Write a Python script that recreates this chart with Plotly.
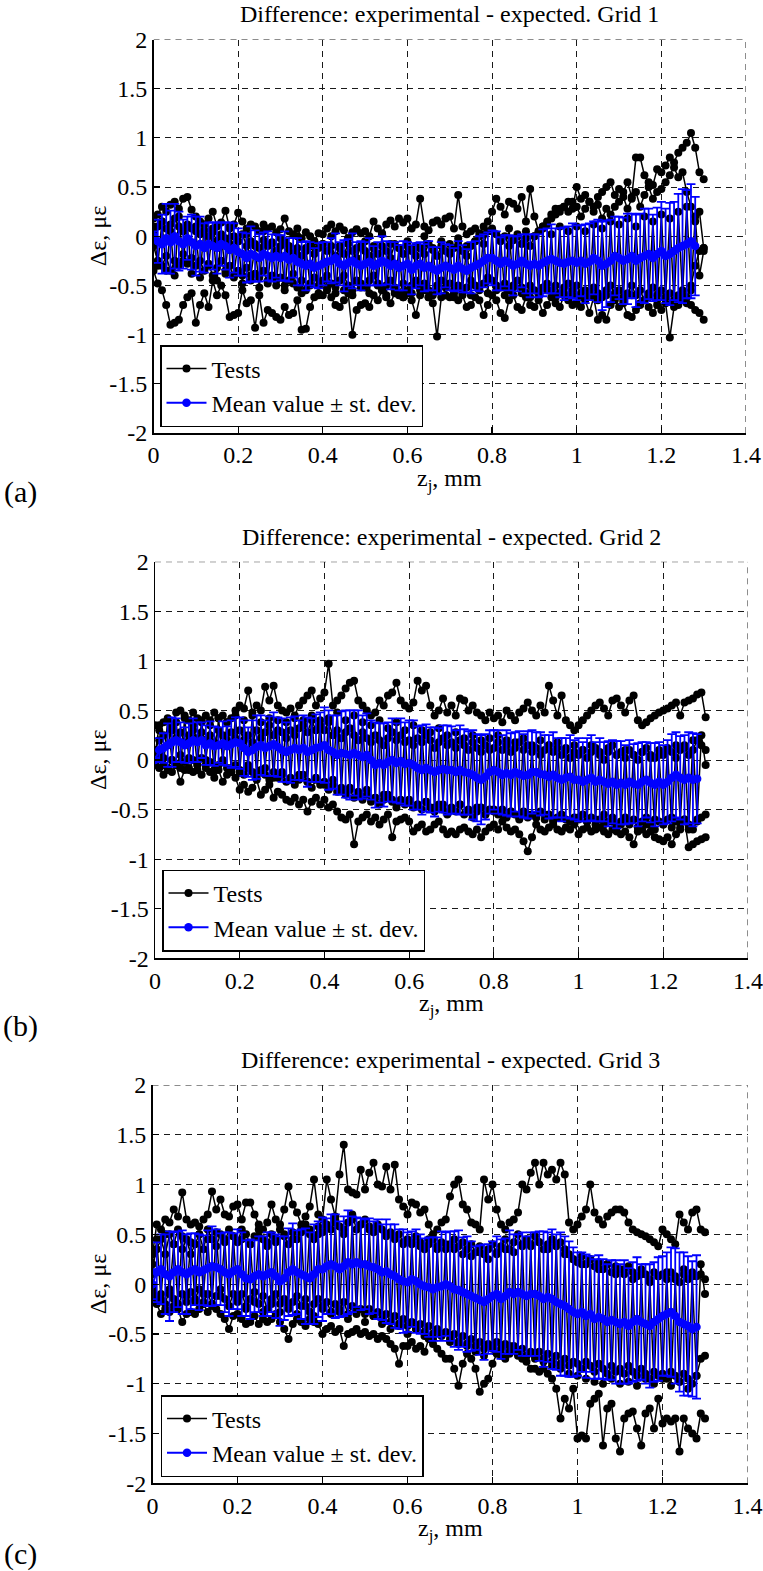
import plotly.graph_objects as go

# ---------------- DATA ----------------
# z_j positions (mm) of the test points and of the mean curve
z_tests = [round(0.01 * i, 2) for i in range(131)]
z_mean = [round(0.01 * i, 2) for i in range(129)]

x_tick_vals = [0, 0.2, 0.4, 0.6, 0.8, 1.0, 1.2, 1.4]
x_tick_text = ["0", "0.2", "0.4", "0.6", "0.8", "1", "1.2", "1.4"]
y_tick_vals = [-2, -1.5, -1, -0.5, 0, 0.5, 1, 1.5, 2]
y_tick_text = ["-2", "-1.5", "-1", "-0.5", "0", "0.5", "1", "1.5", "2"]

titles = ["Difference: experimental - expected. Grid 1",
          "Difference: experimental - expected. Grid 2",
          "Difference: experimental - expected. Grid 3"]
panel_letters = ["(a)", "(b)", "(c)"]

# ---- Grid 1 ----
g1_test1 = [0.18, 0.22, 0.30, 0.25, 0.32, 0.35, 0.28, 0.38, 0.40, 0.27,
            0.20, 0.15, 0.12, 0.18, 0.25, 0.10, 0.14, 0.26, 0.08, 0.12,
            0.24, 0.15, 0.08, 0.12, 0.10, 0.05, 0.12, 0.08, 0.10, 0.04,
            0.07, 0.18, 0.05, 0.02, 0.08, -0.02, 0.04, 0.00, -0.05, 0.03,
            0.02, 0.08, 0.12, 0.05, 0.10, 0.06, -0.02, 0.04, 0.07, 0.03,
            0.05, 0.00, 0.15, 0.08, 0.03, 0.12, 0.16, 0.10, 0.18, 0.14,
            0.18, 0.08, 0.12, 0.38, 0.10, 0.06, 0.14, 0.16, 0.12, 0.18,
            0.20, 0.08, 0.42, 0.10, 0.02, 0.05, 0.08, 0.03, 0.10, 0.15,
            0.25, 0.38, 0.30, 0.22, 0.35, 0.33, 0.28, 0.40, 0.15, 0.48,
            0.20, 0.05, 0.10, 0.15, 0.22, 0.28, 0.25, 0.30, 0.35, 0.28,
            0.50, 0.38, 0.42, 0.35, 0.30, 0.40, 0.45, 0.50, 0.55, 0.42,
            0.48, 0.45, 0.55, 0.40, 0.80, 0.80, 0.62, 0.55, 0.52, 0.68,
            0.65, 0.72, 0.80, 0.75, 0.85, 0.90, 0.95, 1.05, 0.90, 0.65, 0.58]
g1_test2 = [0.05, 0.10, 0.15, 0.08, 0.12, 0.18, 0.10, 0.05, 0.12, 0.08,
            0.10, 0.02, 0.06, 0.00, 0.04, -0.05, 0.02, -0.02, -0.08, 0.00,
            -0.05, 0.02, -0.10, -0.05, -0.08, -0.12, -0.04, -0.10, -0.06, -0.15,
            -0.10, -0.05, -0.14, -0.18, -0.12, -0.20, -0.15, -0.10, -0.18, -0.12,
            -0.08, -0.15, -0.10, -0.20, -0.12, -0.18, -0.08, -0.15, -0.22, -0.10,
            -0.15, -0.20, -0.12, -0.18, -0.10, -0.15, -0.22, -0.08, -0.12, -0.18,
            -0.10, -0.15, -0.20, -0.12, -0.18, -0.08, -0.14, -0.20, -0.10, -0.15,
            -0.18, -0.12, -0.08, -0.15, -0.20, -0.10, -0.05, 0.00, -0.08, 0.05,
            0.08, 0.02, -0.05, 0.00, -0.10, -0.04, 0.02, -0.08, -0.02, -0.10,
            0.00, 0.05, 0.10, 0.12, 0.18, 0.22, 0.28, 0.30, 0.25, 0.35,
            0.30, 0.20, 0.28, 0.35, 0.25, 0.32, 0.18, 0.28, 0.22, 0.30,
            0.35, 0.40, 0.28, 0.38, 0.45, 0.30, 0.42, 0.50, 0.38, 0.45,
            0.48, 0.55, 0.62, 0.70, 0.60, 0.65, 0.45, 0.30, 0.15, 0.25, -0.12]
g1_test3 = [-0.10, -0.25, -0.30, -0.20, -0.35, -0.25, -0.30, -0.18, -0.28, -0.22,
            -0.30, -0.25, -0.35, -0.28, -0.40, -0.32, -0.25, -0.38, -0.30, -0.42,
            -0.35, -0.40, -0.32, -0.45, -0.38, -0.42, -0.35, -0.48, -0.40, -0.45,
            -0.42, -0.50, -0.45, -0.38, -0.52, -0.45, -0.55, -0.48, -0.42, -0.50,
            -0.45, -0.40, -0.48, -0.52, -0.45, -0.40, -0.50, -0.55, -0.45, -0.48,
            -0.52, -0.45, -0.40, -0.48, -0.55, -0.50, -0.45, -0.52, -0.58, -0.48,
            -0.55, -0.50, -0.45, -0.52, -0.48, -0.55, -0.60, -0.50, -0.45, -0.52,
            -0.48, -0.55, -0.50, -0.58, -0.52, -0.45, -0.50, -0.55, -0.48, -0.42,
            -0.45, -0.50, -0.52, -0.48, -0.55, -0.50, -0.45, -0.52, -0.58, -0.50,
            -0.55, -0.60, -0.52, -0.48, -0.55, -0.50, -0.58, -0.52, -0.48, -0.55,
            -0.50, -0.58, -0.55, -0.60, -0.52, -0.58, -0.62, -0.55, -0.50, -0.58,
            -0.55, -0.62, -0.58, -0.50, -0.60, -0.55, -0.65, -0.58, -0.52, -0.60,
            -0.55, -0.62, -0.58, -0.65, -0.60, -0.55, -0.62, -0.50, -0.30, -0.15, -0.12]
g1_test4 = [-0.35, -0.48, -0.55, -0.70, -0.90, -0.88, -0.85, -0.70, -0.62, -0.58,
            -0.88, -0.70, -0.58, -0.72, -0.45, -0.60, -0.50, -0.60, -0.82, -0.80,
            -0.78, -0.55, -0.68, -0.65, -0.93, -0.60, -0.88, -0.75, -0.78, -0.82,
            -0.85, -0.72, -0.80, -0.78, -0.65, -0.95, -0.94, -0.72, -0.62, -0.58,
            -0.60, -0.55, -0.62, -0.70, -0.72, -0.65, -0.58, -1.00, -0.75, -0.70,
            -0.68, -0.72, -0.60, -0.65, -0.55, -0.62, -0.68, -0.58, -0.60, -0.62,
            -0.58, -0.65, -0.80, -0.60, -0.55, -0.62, -0.68, -1.02, -0.62, -0.60,
            -0.62, -0.58, -0.65, -0.60, -0.72, -0.70, -0.62, -0.65, -0.80, -0.70,
            -0.60, -0.65, -0.78, -0.83, -0.65, -0.60, -0.72, -0.75, -0.62, -0.70,
            -0.72, -0.65, -0.78, -0.70, -0.62, -0.68, -0.72, -0.60, -0.65, -0.70,
            -0.68, -0.72, -0.65, -0.78, -0.62, -0.85, -0.80, -0.85, -0.70, -0.65,
            -0.72, -0.68, -0.80, -0.82, -0.75, -0.70, -0.65, -0.72, -0.78, -0.70,
            -0.75, -0.68, -1.03, -0.72, -0.70, -0.65, -0.68, -0.70, -0.75, -0.78, -0.85]
g1_test5 = [0.10, -0.30, 0.15, -0.35, 0.05, -0.40, 0.20, -0.25, 0.10, -0.38,
            0.05, -0.42, 0.12, -0.30, 0.08, -0.45, 0.00, -0.35, 0.10, -0.40,
            -0.05, -0.48, 0.02, -0.40, -0.10, -0.52, 0.05, -0.45, -0.08, -0.50,
            -0.02, -0.55, -0.10, -0.48, 0.00, -0.58, -0.12, -0.50, -0.05, -0.60,
            -0.08, -0.52, 0.00, -0.58, -0.10, -0.55, -0.02, -0.60, -0.12, -0.52,
            -0.05, -0.58, -0.10, -0.50, 0.02, -0.60, -0.08, -0.55, -0.12, -0.62,
            -0.05, -0.58, -0.10, -0.55, 0.00, -0.62, -0.12, -0.55, -0.05, -0.60,
            -0.08, -0.62, -0.02, -0.55, -0.10, -0.60, -0.05, -0.52, 0.02, -0.58,
            0.05, -0.55, -0.02, -0.60, 0.08, -0.52, 0.00, -0.58, 0.05, -0.62,
            0.00, -0.58, 0.08, -0.55, 0.02, -0.62, 0.10, -0.58, 0.05, -0.60,
            0.10, -0.62, 0.05, -0.58, 0.12, -0.65, 0.08, -0.60, 0.15, -0.62,
            0.12, -0.65, 0.18, -0.60, 0.10, -0.68, 0.20, -0.62, 0.15, -0.65,
            0.22, -0.62, 0.18, -0.68, 0.25, -0.60, 0.30, -0.55, 0.20, -0.40, -0.15]
g1_mean = [0.00, -0.05, -0.08, -0.02, -0.06, 0.00, -0.05, -0.08, -0.02, -0.06,
           -0.10, -0.08, -0.12, -0.08, -0.10, -0.12, -0.08, -0.10, -0.14, -0.12,
           -0.16, -0.18, -0.22, -0.18, -0.20, -0.22, -0.18, -0.20, -0.22, -0.20,
           -0.22, -0.20, -0.24, -0.22, -0.26, -0.28, -0.30, -0.28, -0.32, -0.30,
           -0.28, -0.26, -0.25, -0.22, -0.28, -0.30, -0.27, -0.25, -0.28, -0.30,
           -0.28, -0.26, -0.30, -0.28, -0.25, -0.27, -0.30, -0.28, -0.32, -0.30,
           -0.28, -0.34, -0.30, -0.28, -0.32, -0.30, -0.33, -0.35, -0.32, -0.30,
           -0.32, -0.34, -0.30, -0.33, -0.35, -0.32, -0.30, -0.28, -0.25, -0.22,
           -0.22, -0.25, -0.28, -0.25, -0.27, -0.30, -0.28, -0.25, -0.28, -0.30,
           -0.28, -0.30, -0.27, -0.25, -0.23, -0.25, -0.27, -0.28, -0.26, -0.25,
           -0.27, -0.25, -0.28, -0.26, -0.22, -0.25, -0.30, -0.28, -0.25, -0.20,
           -0.22, -0.25, -0.23, -0.20, -0.25, -0.22, -0.20, -0.18, -0.22, -0.18,
           -0.15, -0.20, -0.18, -0.15, -0.12, -0.10, -0.08, -0.05, -0.10]
g1_std = [0.05, 0.22, 0.30, 0.35, 0.32, 0.33, 0.30, 0.25, 0.22, 0.28,
          0.30, 0.28, 0.25, 0.22, 0.24, 0.26, 0.22, 0.24, 0.28, 0.25,
          0.24, 0.22, 0.25, 0.28, 0.26, 0.24, 0.22, 0.25, 0.24, 0.22,
          0.23, 0.25, 0.22, 0.20, 0.24, 0.22, 0.25, 0.22, 0.20, 0.23,
          0.22, 0.20, 0.23, 0.25, 0.22, 0.26, 0.24, 0.28, 0.22, 0.25,
          0.22, 0.24, 0.20, 0.22, 0.25, 0.22, 0.24, 0.22, 0.23, 0.25,
          0.22, 0.25, 0.23, 0.22, 0.24, 0.25, 0.22, 0.24, 0.26, 0.22,
          0.23, 0.22, 0.25, 0.24, 0.22, 0.26, 0.25, 0.28, 0.27, 0.26,
          0.28, 0.30, 0.27, 0.26, 0.28, 0.30, 0.28, 0.27, 0.30, 0.32,
          0.30, 0.32, 0.34, 0.33, 0.35, 0.33, 0.35, 0.37, 0.36, 0.38,
          0.38, 0.36, 0.40, 0.39, 0.37, 0.42, 0.45, 0.44, 0.42, 0.40,
          0.42, 0.44, 0.46, 0.43, 0.47, 0.45, 0.48, 0.46, 0.44, 0.47,
          0.50, 0.48, 0.52, 0.50, 0.55, 0.58, 0.55, 0.58, 0.50]

# ---- Grid 2 ----
g2_test1 = [0.35, 0.30, 0.38, 0.42, 0.35, 0.48, 0.50, 0.45, 0.40, 0.48,
            0.42, 0.38, 0.45, 0.40, 0.48, 0.42, 0.45, 0.38, 0.42, 0.50,
            0.55, 0.52, 0.70, 0.48, 0.55, 0.50, 0.74, 0.60, 0.75, 0.55,
            0.50, 0.48, 0.52, 0.45, 0.55, 0.60, 0.65, 0.70, 0.55, 0.62,
            0.68, 0.97, 0.55, 0.60, 0.65, 0.72, 0.78, 0.80, 0.60, 0.55,
            0.50, 0.45, 0.48, 0.60, 0.55, 0.65, 0.68, 0.78, 0.60, 0.55,
            0.52, 0.58, 0.80, 0.70, 0.75, 0.55, 0.45, 0.50, 0.62, 0.48,
            0.55, 0.45, 0.62, 0.60, 0.50, 0.55, 0.48, 0.45, 0.40, 0.48,
            0.42, 0.45, 0.38, 0.50, 0.45, 0.40, 0.48, 0.52, 0.58, 0.50,
            0.45, 0.55, 0.48, 0.75, 0.60, 0.45, 0.65, 0.40, 0.35, 0.30,
            0.35, 0.40, 0.45, 0.50, 0.55, 0.58, 0.52, 0.45, 0.60, 0.62,
            0.55, 0.48, 0.60, 0.65, 0.40, 0.35, 0.38, 0.42, 0.45, 0.48,
            0.50, 0.52, 0.55, 0.58, 0.45, 0.58, 0.60, 0.62, 0.66, 0.68, 0.43]
g2_test2 = [0.10, 0.20, 0.25, 0.15, 0.30, 0.22, 0.28, 0.18, 0.25, 0.30,
            0.22, 0.28, 0.20, 0.25, 0.18, 0.30, 0.25, 0.20, 0.28, 0.22,
            0.30, 0.20, 0.25, 0.18, 0.30, 0.22, 0.28, 0.35, 0.25, 0.30,
            0.28, 0.22, 0.30, 0.25, 0.32, 0.35, 0.28, 0.40, 0.30, 0.35,
            0.30, 0.38, 0.25, 0.30, 0.22, 0.28, 0.32, 0.25, 0.20, 0.28,
            0.22, 0.18, 0.25, 0.20, 0.15, 0.22, 0.28, 0.20, 0.25, 0.18,
            0.20, 0.15, 0.22, 0.18, 0.25, 0.20, 0.12, 0.18, 0.22, 0.15,
            0.18, 0.12, 0.20, 0.15, 0.10, 0.18, 0.12, 0.08, 0.15, 0.10,
            0.12, 0.18, 0.10, 0.15, 0.08, 0.12, 0.18, 0.10, 0.15, 0.08,
            0.12, 0.05, 0.10, 0.15, 0.08, 0.12, 0.05, 0.10, 0.02, 0.08,
            0.05, 0.10, 0.02, 0.08, 0.12, 0.05, 0.00, 0.08, 0.15, 0.05,
            0.08, 0.02, 0.10, 0.05, 0.00, 0.08, 0.12, 0.05, 0.02, 0.10,
            0.05, 0.12, 0.08, 0.02, 0.10, 0.15, 0.05, 0.10, 0.20, 0.15, 0.10]
g2_test3 = [-0.05, 0.05, 0.02, -0.08, 0.00, -0.05, 0.05, -0.02, -0.10, 0.00,
            -0.05, 0.02, -0.08, -0.02, -0.10, -0.05, 0.00, -0.08, -0.12, -0.05,
            -0.10, -0.15, -0.08, -0.12, -0.18, -0.10, -0.15, -0.20, -0.12, -0.18,
            -0.15, -0.22, -0.18, -0.25, -0.20, -0.15, -0.22, -0.28, -0.20, -0.25,
            -0.22, -0.30, -0.25, -0.32, -0.28, -0.35, -0.30, -0.38, -0.32, -0.40,
            -0.35, -0.42, -0.38, -0.45, -0.40, -0.35, -0.42, -0.48, -0.40, -0.45,
            -0.42, -0.48, -0.45, -0.50, -0.42, -0.48, -0.52, -0.45, -0.50, -0.55,
            -0.48, -0.52, -0.45, -0.55, -0.50, -0.58, -0.52, -0.48, -0.55, -0.50,
            -0.52, -0.55, -0.50, -0.58, -0.52, -0.55, -0.60, -0.52, -0.58, -0.55,
            -0.58, -0.52, -0.60, -0.55, -0.62, -0.58, -0.55, -0.60, -0.62, -0.58,
            -0.60, -0.55, -0.62, -0.58, -0.65, -0.60, -0.55, -0.62, -0.58, -0.65,
            -0.62, -0.58, -0.65, -0.60, -0.68, -0.62, -0.58, -0.65, -0.60, -0.62,
            -0.65, -0.60, -0.58, -0.62, -0.68, -0.60, -0.65, -0.70, -0.62, -0.58, -0.55]
g2_test4 = [-0.02, -0.08, -0.15, -0.10, -0.12, -0.05, -0.22, -0.10, -0.08, -0.12,
            -0.10, -0.15, -0.05, -0.12, -0.18, -0.10, -0.22, -0.15, -0.12, -0.18,
            -0.30, -0.25, -0.32, -0.28, -0.20, -0.35, -0.30, -0.25, -0.38, -0.32,
            -0.35, -0.40, -0.42, -0.38, -0.45, -0.40, -0.52, -0.42, -0.38, -0.45,
            -0.40, -0.48, -0.45, -0.52, -0.58, -0.60, -0.55, -0.85, -0.62, -0.58,
            -0.55, -0.62, -0.58, -0.65, -0.60, -0.55, -0.78, -0.62, -0.60, -0.58,
            -0.62, -0.72, -0.68, -0.65, -0.72, -0.70, -0.65, -0.62, -0.70, -0.75,
            -0.72, -0.75, -0.70, -0.68, -0.72, -0.75, -0.70, -0.78, -0.72, -0.68,
            -0.65, -0.70, -0.62, -0.68, -0.72, -0.70, -0.75, -0.82, -0.92, -0.78,
            -0.65, -0.70, -0.72, -0.68, -0.65, -0.70, -0.72, -0.68, -0.70, -0.65,
            -0.75, -0.70, -0.68, -0.72, -0.70, -0.68, -0.72, -0.75, -0.70, -0.72,
            -0.75, -0.72, -0.78, -0.85, -0.72, -0.70, -0.75, -0.72, -0.78, -0.80,
            -0.82, -0.78, -0.85, -0.75, -0.70, -0.60, -0.88, -0.85, -0.82, -0.80, -0.78]
g2_test5 = [0.05, 0.35, -0.05, 0.40, 0.00, 0.38, -0.08, 0.42, 0.02, 0.35,
            -0.05, 0.40, 0.00, 0.35, -0.10, 0.42, -0.02, 0.38, -0.08, 0.45,
            -0.12, 0.40, -0.05, 0.45, -0.15, 0.38, -0.08, 0.42, -0.18, 0.40,
            -0.12, 0.38, -0.20, 0.42, -0.15, 0.40, -0.22, 0.45, -0.18, 0.40,
            -0.25, 0.42, -0.20, 0.48, -0.30, 0.40, -0.28, 0.45, -0.35, 0.38,
            -0.30, 0.35, -0.38, 0.40, -0.35, 0.32, -0.40, 0.38, -0.42, 0.30,
            -0.40, 0.35, -0.45, 0.30, -0.42, 0.28, -0.48, 0.32, -0.45, 0.25,
            -0.50, 0.28, -0.45, 0.22, -0.52, 0.25, -0.48, 0.20, -0.55, 0.22,
            -0.50, 0.25, -0.55, 0.20, -0.52, 0.18, -0.58, 0.22, -0.55, 0.15,
            -0.58, 0.20, -0.55, 0.15, -0.60, 0.18, -0.58, 0.12, -0.62, 0.15,
            -0.58, 0.10, -0.62, 0.15, -0.60, 0.08, -0.65, 0.12, -0.62, 0.05,
            -0.65, 0.10, -0.62, 0.05, -0.68, 0.08, -0.65, 0.02, -0.70, 0.05,
            -0.65, 0.10, -0.68, 0.15, -0.62, 0.12, -0.70, 0.20, -0.60, 0.25, -0.05]
g2_mean = [0.00, 0.10, 0.12, 0.15, 0.18, 0.20, 0.18, 0.15, 0.17, 0.20,
           0.18, 0.20, 0.15, 0.17, 0.14, 0.15, 0.17, 0.14, 0.16, 0.18,
           0.17, 0.12, 0.08, 0.10, 0.13, 0.15, 0.12, 0.14, 0.16, 0.13,
           0.10, 0.08, 0.10, 0.12, 0.10, 0.12, 0.08, 0.10, 0.12, 0.13,
           0.15, 0.10, 0.08, 0.05, 0.07, 0.06, 0.05, 0.07, 0.05, 0.03,
           0.05, 0.00, -0.05, -0.03, -0.05, -0.02, 0.00, -0.03, -0.01, -0.04,
           -0.03, -0.05, -0.08, -0.10, -0.08, -0.10, -0.12, -0.10, -0.09, -0.10,
           -0.10, -0.12, -0.10, -0.12, -0.13, -0.15, -0.18, -0.20, -0.17, -0.12,
           -0.10, -0.12, -0.15, -0.13, -0.15, -0.12, -0.14, -0.16, -0.15, -0.12,
           -0.12, -0.14, -0.15, -0.17, -0.15, -0.18, -0.20, -0.18, -0.17, -0.20,
           -0.20, -0.22, -0.20, -0.18, -0.22, -0.20, -0.22, -0.24, -0.22, -0.25,
           -0.23, -0.25, -0.22, -0.24, -0.25, -0.22, -0.20, -0.23, -0.25, -0.22,
           -0.25, -0.22, -0.18, -0.15, -0.18, -0.20, -0.18, -0.20, -0.19]
g2_std = [0.02, 0.12, 0.15, 0.22, 0.25, 0.22, 0.20, 0.18, 0.20, 0.22,
          0.20, 0.18, 0.20, 0.22, 0.20, 0.18, 0.22, 0.20, 0.24, 0.25,
          0.26, 0.28, 0.25, 0.30, 0.32, 0.30, 0.28, 0.30, 0.32, 0.30,
          0.32, 0.30, 0.33, 0.32, 0.30, 0.33, 0.35, 0.32, 0.34, 0.35,
          0.38, 0.40, 0.37, 0.40, 0.42, 0.44, 0.45, 0.43, 0.45, 0.42,
          0.42, 0.40, 0.43, 0.40, 0.42, 0.40, 0.42, 0.40, 0.43, 0.42,
          0.43, 0.45, 0.42, 0.45, 0.44, 0.43, 0.45, 0.42, 0.44, 0.45,
          0.44, 0.42, 0.45, 0.43, 0.42, 0.45, 0.44, 0.45, 0.43, 0.42,
          0.40, 0.42, 0.40, 0.43, 0.42, 0.40, 0.43, 0.42, 0.44, 0.42,
          0.40, 0.42, 0.40, 0.42, 0.43, 0.40, 0.42, 0.40, 0.42, 0.40,
          0.42, 0.40, 0.42, 0.43, 0.40, 0.42, 0.40, 0.43, 0.42, 0.44,
          0.42, 0.40, 0.42, 0.40, 0.42, 0.40, 0.38, 0.40, 0.42, 0.40,
          0.40, 0.42, 0.44, 0.43, 0.42, 0.45, 0.46, 0.47, 0.45]

# ---- Grid 3 ----
g3_test1 = [0.30, 0.60, 0.55, 0.65, 0.62, 0.75, 0.68, 0.92, 0.65, 0.60,
            0.62, 0.58, 0.65, 0.70, 0.93, 0.75, 0.85, 0.70, 0.68, 0.78,
            0.80, 0.65, 0.82, 0.82, 0.70, 0.60, 0.55, 0.62, 0.80, 0.65,
            0.60, 0.75, 0.98, 0.80, 0.72, 0.60, 0.68, 0.78, 1.05, 0.70,
            0.65, 1.05, 0.85, 0.68, 1.10, 1.40, 0.95, 0.92, 0.90, 1.15,
            0.95, 1.12, 1.22, 1.00, 0.98, 1.18, 0.95, 1.20, 0.85, 0.78,
            0.70, 0.82, 0.80, 0.72, 0.75, 0.60, 0.50, 0.55, 0.62, 0.65,
            0.88, 1.00, 1.05, 0.80, 0.75, 0.62, 0.60, 0.55, 1.05, 0.85,
            1.00, 0.75, 0.60, 0.55, 0.62, 0.65, 0.72, 1.00, 0.95, 1.12,
            1.22, 1.00, 1.22, 1.10, 1.15, 1.05, 1.22, 1.10, 0.62, 0.55,
            0.60, 0.68, 0.75, 1.00, 0.72, 0.65, 0.60, 0.68, 0.72, 0.75,
            0.75, 0.72, 0.62, 0.55, 0.52, 0.50, 0.48, 0.45, 0.42, 0.38,
            0.55, 0.50, 0.45, 0.40, 0.70, 0.62, 0.55, 0.72, 0.75, 0.55, 0.52]
g3_test2 = [0.20, 0.35, 0.45, 0.30, 0.50, 0.40, 0.55, 0.35, 0.45, 0.30,
            0.40, 0.50, 0.35, 0.55, 0.45, 0.38, 0.50, 0.42, 0.55, 0.48,
            0.42, 0.55, 0.50, 0.40, 0.48, 0.55, 0.45, 0.38, 0.50, 0.42,
            0.55, 0.48, 0.40, 0.52, 0.45, 0.55, 0.60, 0.50, 0.45, 0.58,
            0.52, 0.60, 0.55, 0.65, 0.58, 0.50, 0.62, 0.70, 0.55, 0.60,
            0.65, 0.58, 0.52, 0.60, 0.55, 0.48, 0.52, 0.45, 0.50, 0.42,
            0.45, 0.40, 0.48, 0.42, 0.35, 0.40, 0.45, 0.38, 0.42, 0.35,
            0.40, 0.45, 0.38, 0.42, 0.35, 0.40, 0.32, 0.38, 0.30, 0.35,
            0.40, 0.32, 0.38, 0.45, 0.35, 0.42, 0.50, 0.38, 0.45, 0.40,
            0.48, 0.42, 0.35, 0.40, 0.45, 0.38, 0.42, 0.35, 0.30, 0.25,
            0.22, 0.28, 0.20, 0.25, 0.18, 0.22, 0.15, 0.20, 0.12, 0.18,
            0.15, 0.10, 0.18, 0.12, 0.08, 0.15, 0.10, 0.05, 0.12, 0.08,
            0.10, 0.05, 0.12, 0.08, 0.02, 0.10, 0.05, 0.12, 0.08, 0.10, 0.05]
g3_test3 = [-0.05, -0.15, -0.10, -0.20, -0.05, -0.15, -0.22, -0.10, -0.18, -0.08,
            -0.15, -0.05, -0.18, -0.10, -0.20, -0.12, -0.05, -0.15, -0.22, -0.10,
            -0.18, -0.10, -0.22, -0.15, -0.08, -0.20, -0.12, -0.25, -0.15, -0.10,
            -0.20, -0.15, -0.25, -0.18, -0.12, -0.22, -0.15, -0.28, -0.20, -0.15,
            -0.22, -0.18, -0.28, -0.20, -0.25, -0.18, -0.30, -0.22, -0.28, -0.25,
            -0.30, -0.25, -0.32, -0.28, -0.35, -0.30, -0.38, -0.32, -0.40, -0.35,
            -0.42, -0.38, -0.45, -0.40, -0.48, -0.42, -0.50, -0.45, -0.52, -0.48,
            -0.55, -0.50, -0.58, -0.52, -0.60, -0.55, -0.62, -0.58, -0.65, -0.60,
            -0.62, -0.58, -0.65, -0.60, -0.68, -0.62, -0.70, -0.65, -0.72, -0.68,
            -0.72, -0.68, -0.75, -0.70, -0.78, -0.72, -0.80, -0.75, -0.82, -0.78,
            -0.80, -0.85, -0.78, -0.82, -0.88, -0.80, -0.85, -0.90, -0.82, -0.88,
            -0.85, -0.90, -0.82, -0.88, -0.92, -0.85, -0.90, -0.95, -0.88, -0.92,
            -0.90, -0.95, -0.88, -0.92, -0.98, -0.90, -0.95, -1.00, -0.92, -0.75, -0.72]
g3_test4 = [-0.10, -0.20, -0.30, -0.25, -0.28, -0.22, -0.25, -0.38, -0.30, -0.28,
            -0.30, -0.25, -0.20, -0.28, -0.22, -0.25, -0.30, -0.35, -0.45, -0.32,
            -0.30, -0.35, -0.40, -0.38, -0.32, -0.40, -0.35, -0.38, -0.35, -0.30,
            -0.38, -0.45, -0.55, -0.40, -0.35, -0.38, -0.42, -0.35, -0.38, -0.40,
            -0.50, -0.45, -0.42, -0.48, -0.45, -0.62, -0.50, -0.48, -0.45, -0.50,
            -0.48, -0.52, -0.50, -0.55, -0.52, -0.55, -0.60, -0.65, -0.80, -0.62,
            -0.62, -0.58, -0.65, -0.62, -0.68, -0.55, -0.60, -0.65, -0.70, -0.75,
            -0.75, -0.85, -1.02, -0.80, -0.70, -0.75, -0.85, -1.08, -1.00, -0.95,
            -0.80, -0.70, -0.72, -0.75, -0.70, -0.65, -0.72, -0.75, -0.78, -0.85,
            -0.85, -0.88, -0.85, -0.90, -0.95, -1.05, -1.35, -1.15, -1.25, -1.05,
            -1.55, -1.52, -1.55, -1.20, -1.15, -1.10, -1.62, -1.25, -1.20, -1.55,
            -1.68, -1.35, -1.30, -1.28, -1.45, -1.62, -1.30, -1.25, -1.45, -1.15,
            -1.40, -1.35, -1.38, -1.35, -1.68, -1.35, -1.45, -1.50, -1.55, -1.30, -1.35]
g3_test5 = [0.10, 0.45, -0.15, 0.50, -0.10, 0.40, -0.20, 0.48, -0.12, 0.42,
            -0.18, 0.50, -0.10, 0.45, -0.20, 0.52, -0.12, 0.45, -0.22, 0.48,
            -0.15, 0.45, -0.25, 0.40, -0.18, 0.48, -0.28, 0.42, -0.20, 0.45,
            -0.28, 0.50, -0.20, 0.45, -0.30, 0.52, -0.22, 0.55, -0.32, 0.50,
            -0.25, 0.58, -0.30, 0.62, -0.28, 0.55, -0.35, 0.65, -0.30, 0.60,
            -0.38, 0.55, -0.32, 0.58, -0.40, 0.50, -0.45, 0.48, -0.42, 0.40,
            -0.50, 0.42, -0.45, 0.38, -0.52, 0.45, -0.55, 0.35, -0.50, 0.40,
            -0.58, 0.35, -0.60, 0.30, -0.62, 0.28, -0.68, 0.32, -0.72, 0.25,
            -0.65, 0.30, -0.70, 0.35, -0.62, 0.32, -0.68, 0.40, -0.72, 0.38,
            -0.75, 0.42, -0.78, 0.35, -0.82, 0.40, -0.85, 0.30, -0.90, 0.25,
            -0.92, 0.20, -0.95, 0.25, -0.98, 0.15, -1.00, 0.20, -0.95, 0.10,
            -1.00, 0.15, -0.98, 0.05, -1.02, 0.10, -0.95, 0.02, -1.00, 0.08,
            -0.95, 0.12, -1.02, 0.05, -0.98, 0.15, -1.05, 0.08, -0.92, 0.20, -0.10]
g3_mean = [0.00, 0.12, 0.15, 0.10, 0.08, 0.12, 0.15, 0.12, 0.10, 0.13,
           0.15, 0.12, 0.14, 0.16, 0.18, 0.17, 0.15, 0.12, 0.10, 0.13,
           0.15, 0.10, 0.06, 0.05, 0.08, 0.10, 0.08, 0.10, 0.12, 0.08,
           0.03, 0.06, 0.12, 0.15, 0.12, 0.10, 0.08, 0.06, 0.10, 0.15,
           0.15, 0.18, 0.20, 0.18, 0.15, 0.18, 0.22, 0.20, 0.22, 0.20,
           0.20, 0.18, 0.17, 0.15, 0.12, 0.13, 0.10, 0.08, 0.05, 0.03,
           0.02, 0.05, 0.03, 0.00, -0.02, -0.03, -0.05, -0.03, -0.02, 0.00,
           -0.02, -0.05, -0.06, -0.08, -0.10, -0.12, -0.14, -0.16, -0.18, -0.15,
           -0.12, -0.10, -0.15, -0.12, -0.08, -0.10, -0.08, -0.10, -0.12, -0.10,
           -0.10, -0.12, -0.15, -0.13, -0.15, -0.18, -0.20, -0.22, -0.25, -0.28,
           -0.30, -0.28, -0.32, -0.30, -0.35, -0.33, -0.35, -0.38, -0.36, -0.38,
           -0.40, -0.38, -0.42, -0.38, -0.35, -0.38, -0.40, -0.42, -0.38, -0.35,
           -0.32, -0.30, -0.28, -0.32, -0.38, -0.40, -0.42, -0.45, -0.43]
g3_std = [0.15, 0.30, 0.35, 0.40, 0.45, 0.40, 0.38, 0.42, 0.40, 0.38,
          0.36, 0.38, 0.35, 0.38, 0.40, 0.38, 0.36, 0.40, 0.42, 0.38,
          0.40, 0.42, 0.38, 0.40, 0.36, 0.38, 0.40, 0.42, 0.40, 0.42,
          0.45, 0.42, 0.44, 0.46, 0.42, 0.45, 0.48, 0.46, 0.50, 0.48,
          0.52, 0.48, 0.50, 0.52, 0.48, 0.50, 0.52, 0.48, 0.45, 0.46,
          0.45, 0.48, 0.46, 0.50, 0.48, 0.52, 0.50, 0.52, 0.50, 0.52,
          0.50, 0.48, 0.52, 0.50, 0.48, 0.50, 0.52, 0.50, 0.55, 0.52,
          0.55, 0.58, 0.60, 0.55, 0.58, 0.55, 0.52, 0.55, 0.58, 0.55,
          0.55, 0.58, 0.60, 0.58, 0.62, 0.60, 0.58, 0.62, 0.60, 0.62,
          0.62, 0.65, 0.68, 0.65, 0.70, 0.68, 0.72, 0.70, 0.68, 0.65,
          0.62, 0.60, 0.62, 0.58, 0.60, 0.62, 0.60, 0.58, 0.60, 0.62,
          0.60, 0.62, 0.58, 0.60, 0.62, 0.58, 0.60, 0.62, 0.60, 0.62,
          0.60, 0.62, 0.65, 0.68, 0.70, 0.72, 0.70, 0.68, 0.72]

grids = [
    ([g1_test1, g1_test2, g1_test3, g1_test4, g1_test5], g1_mean, g1_std),
    ([g2_test1, g2_test2, g2_test3, g2_test4, g2_test5], g2_mean, g2_std),
    ([g3_test1, g3_test2, g3_test3, g3_test4, g3_test5], g3_mean, g3_std),
]

# ---------------- LAYOUT (pixel geometry) ----------------
W, H = 763, 1571
FONT = "Liberation Serif, Times New Roman, serif"
# plot boxes in pixels: (left, right, top, bottom)
boxes = [(153.5, 746.0, 39.5, 433.0),
         (155.0, 748.0, 561.7, 958.3),
         (152.5, 747.5, 1085.0, 1483.3)]
title_y = [14, 537, 1060]
xlabel_y = [480, 1005, 1530]
letter_y = [492, 1026, 1554]
legend_pos = [(160, 427), (162, 951.5), (160.5, 1477)]


def px(x):
    return x / W


def py(y):
    return 1 - y / H


fig = go.Figure()
layout = dict(
    template="none",
    width=W, height=H, autosize=False,
    margin=dict(l=0, r=0, t=0, b=0, pad=0, autoexpand=False),
    paper_bgcolor="white", plot_bgcolor="white",
    font=dict(family=FONT, size=22, color="black"),
    showlegend=True,
    hovermode=False,
    annotations=[],
)

GRID_COLOR = "#1a1a1a"
GRID_DASH = "6px,5px"

for k, (tests, mean, std) in enumerate(grids):
    sfx = "" if k == 0 else str(k + 1)
    xa, ya = "x" + sfx, "y" + sfx
    leg = "legend" + sfx
    for j, t in enumerate(tests):
        fig.add_trace(go.Scatter(
            x=z_tests[:len(t)], y=t, mode="lines+markers",
            xaxis=xa, yaxis=ya, legend=leg,
            name="Tests", showlegend=(j == 0),
            line=dict(color="black", width=1.5),
            marker=dict(color="black", size=8, symbol="circle", line=dict(width=0)),
        ))
    fig.add_trace(go.Scatter(
        x=z_mean[:len(mean)], y=mean, mode="lines+markers",
        xaxis=xa, yaxis=ya, legend=leg,
        name="Mean value \u00b1 st. dev.",
        line=dict(color="#0000FF", width=2),
        marker=dict(color="#0000FF", size=8.5, symbol="circle", line=dict(width=0)),
        error_y=dict(type="data", array=std[:len(mean)], visible=True,
                     color="#0000FF", thickness=1.8, width=4.5),
    ))

    l, r, t_, b = boxes[k]
    axis_common = dict(
        automargin=False,
        showline=True, linecolor="black", linewidth=1.5, mirror=False,
        ticks="inside", ticklen=6, tickwidth=1.2, tickcolor="black",
        showgrid=True, gridcolor=GRID_COLOR, gridwidth=1, griddash=GRID_DASH,
        zeroline=False, tickfont=dict(family=FONT, size=24, color="black"),
    )
    layout["xaxis" + sfx] = dict(
        axis_common, domain=[px(l), px(r)], anchor=ya, range=[0, 1.4],
        tickmode="array", tickvals=x_tick_vals, ticktext=x_tick_text,
    )
    layout["yaxis" + sfx] = dict(
        axis_common, domain=[py(b), py(t_)], anchor=xa, range=[-2, 2],
        tickmode="array", tickvals=y_tick_vals, ticktext=y_tick_text,
    )
    lx, ly = legend_pos[k]
    layout[leg] = dict(
        x=px(lx), y=py(ly), xanchor="left", yanchor="bottom",
        bgcolor="white", bordercolor="black", borderwidth=1.5,
        font=dict(family=FONT, size=24, color="black"),
        itemwidth=40, tracegroupgap=0,
    )
    # dashed top and right borders (grid at y=2 and x=1.4)
    for shp in (dict(x0=0, x1=1.4, y0=2, y1=2), dict(x0=1.4, x1=1.4, y0=-2, y1=2)):
        fig.add_shape(type="line", xref=xa, yref=ya, **shp,
                      line=dict(color=GRID_COLOR, width=1, dash=GRID_DASH), layer="below")
    cx = (l + r) / 2
    cy_zero = (t_ + b) / 2
    layout["annotations"] += [
        dict(text=titles[k], x=px(cx), y=py(title_y[k]), xref="paper", yref="paper",
             showarrow=False, xanchor="center", yanchor="middle",
             font=dict(family=FONT, size=24, color="black")),
        dict(text="z<sub>j</sub>, mm", x=px(cx), y=py(xlabel_y[k]), xref="paper", yref="paper",
             showarrow=False, xanchor="center", yanchor="middle",
             font=dict(family=FONT, size=24, color="black")),
        dict(text="\u0394\u03b5, \u03bc\u03b5", x=px(98), y=py(cy_zero), xref="paper", yref="paper",
             showarrow=False, xanchor="center", yanchor="middle", textangle=-90,
             font=dict(family=FONT, size=24, color="black")),
        dict(text=panel_letters[k], x=px(20), y=py(letter_y[k]), xref="paper", yref="paper",
             showarrow=False, xanchor="center", yanchor="middle",
             font=dict(family=FONT, size=30, color="black")),
    ]

fig.update_layout(**layout)

# pin the figure to the page's top-left corner (no default body margin)
post = ("document.documentElement.style.margin='0';"
        "document.body.style.margin='0';document.body.style.padding='0';"
        "document.documentElement.style.overflow='hidden';"
        "var gd=document.getElementById('{plot_id}');"
        "gd.style.position='fixed';gd.style.left='0px';gd.style.top='0px';")
fig.write_html("out.html", post_script=post,
               config={"displayModeBar": False, "staticPlot": True})
